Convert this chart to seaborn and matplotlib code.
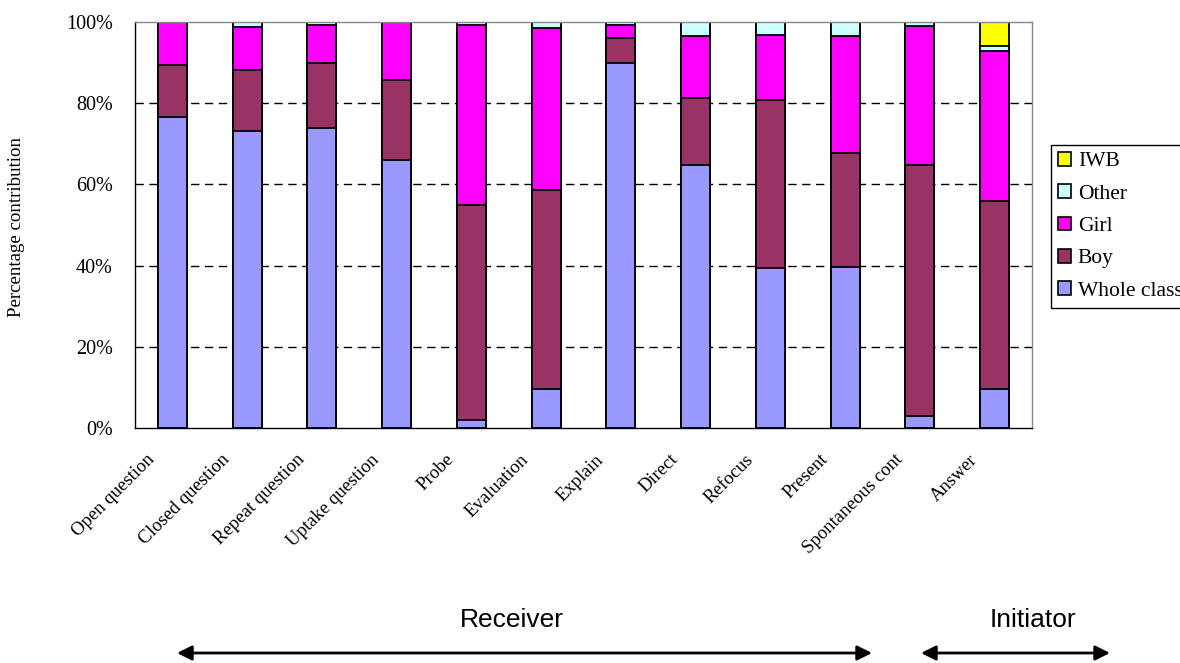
import pandas as pd
import seaborn as sns
from matplotlib import pyplot as plt
from matplotlib.patches import Patch, FancyArrowPatch
from matplotlib.transforms import ScaledTranslation

categories = ["Open question", "Closed question", "Repeat question", "Uptake question",
              "Probe", "Evaluation", "Explain", "Direct", "Refocus", "Present",
              "Spontaneous cont", "Answer"]
whole_class = [76.7, 73.2, 74.0, 66.1, 2.0, 9.5, 89.8, 64.9, 39.3, 39.6, 3.0, 9.5]
boy = [12.7, 15.0, 15.8, 19.7, 53.0, 49.0, 6.2, 16.5, 41.4, 28.1, 61.9, 46.3]
girl = [10.6, 10.5, 9.5, 14.2, 44.3, 40.0, 3.3, 15.2, 16.1, 28.9, 34.0, 37.1]
other = [0.0, 1.3, 0.7, 0.0, 0.7, 1.5, 0.7, 3.4, 3.2, 3.4, 1.1, 1.2]
iwb = [0.0, 0.0, 0.0, 0.0, 0.0, 0.0, 0.0, 0.0, 0.0, 0.0, 0.0, 5.9]
yticks = [0, 20, 40, 60, 80, 100]

segments = ["Whole class", "Boy", "Girl", "Other", "IWB"]
colors = {"Whole class": "#9999FF", "Boy": "#993366", "Girl": "#FF00FF",
          "Other": "#CCFFFF", "IWB": "#FFFF00"}

sns.set_style("white")
plt.rcParams["font.family"] = ["Liberation Serif", "DejaVu Serif"]
plt.rcParams["text.color"] = "black"
plt.rcParams["xtick.color"] = "black"
plt.rcParams["ytick.color"] = "black"

df = pd.DataFrame({"category": categories, "Whole class": whole_class, "Boy": boy,
                   "Girl": girl, "Other": other, "IWB": iwb})
cum = df[segments].cumsum(axis=1)
cum["category"] = df["category"]

fig = plt.figure(figsize=(11.8, 6.63), dpi=100)
ax = fig.add_axes([135 / 1180, 1 - 428 / 663, (1032 - 135) / 1180, (428 - 22) / 663])

# stacked look: draw cumulative totals from the top segment down
for seg in reversed(segments):
    sns.barplot(data=cum, x="category", y=seg, color=colors[seg], saturation=1,
                edgecolor="black", linewidth=1.3, width=0.39, errorbar=None,
                order=categories, ax=ax, zorder=2)

for v in yticks[1:-1]:
    ax.axhline(v, color="black", linestyle=(0, (6, 4)), linewidth=1, zorder=0)

ax.set_xlim(-0.5, len(categories) - 0.5)
ax.set_ylim(0, 100)
ax.set_yticks(yticks)
ax.set_yticklabels([f"{v}%" for v in yticks], fontsize=14.5)
ax.set_xticks(range(len(categories)))
ax.set_xticklabels(categories, rotation=45, ha="right", rotation_mode="anchor", fontsize=13.5)
ax.set_xticks([i - 0.5 for i in range(len(categories) + 1)], minor=True)
ax.tick_params(axis="x", which="major", length=0, pad=8)
ax.tick_params(axis="x", which="minor", length=6, width=1, color="black", direction="out")
ax.tick_params(axis="y", length=7, width=1, color="black", direction="out", pad=9)
ax.set_xlabel("")
ax.set_ylabel("")

shift = ScaledTranslation(-26 / 100, -12 / 100, fig.dpi_scale_trans)
for lab in ax.get_xticklabels():
    lab.set_transform(lab.get_transform() + shift)

for side in ["left", "bottom"]:
    ax.spines[side].set_color("black")
    ax.spines[side].set_linewidth(1)
for side in ["top", "right"]:
    ax.spines[side].set_color("#888888")
    ax.spines[side].set_linewidth(1)

fig.text(17 / 1180, 1 - 227 / 663, "Percentage contribution", rotation=90,
         ha="center", va="center", fontsize=13.6)

handles = [Patch(facecolor=colors[s], edgecolor="black", linewidth=1.2) for s in reversed(segments)]
fig.legend(handles, list(reversed(segments)), loc="upper left",
           bbox_to_anchor=(1051 / 1180, 1 - 145 / 663), frameon=True, fancybox=False,
           edgecolor="black", framealpha=1, fontsize=15.5, handlelength=0.6,
           handleheight=0.6, handletextpad=0.33, labelspacing=0.6, borderaxespad=0,
           borderpad=0.32)

sans = ["Liberation Sans", "DejaVu Sans"]
fig.text(512 / 1180, 1 - 620 / 663, "Receiver", ha="center", va="center",
         fontsize=19, family=sans)
fig.text(1033 / 1180, 1 - 620 / 663, "Initiator", ha="center", va="center",
         fontsize=19, family=sans)

arrow_y = 1 - 653 / 663
for x0, x1 in [(177, 872), (921, 1110)]:
    fig.add_artist(FancyArrowPatch((x0 / 1180, arrow_y), (x1 / 1180, arrow_y),
                                   transform=fig.transFigure, arrowstyle="<|-|>",
                                   mutation_scale=22, color="black", linewidth=2,
                                   shrinkA=0, shrinkB=0))

plt.savefig("out.png", dpi=100)
